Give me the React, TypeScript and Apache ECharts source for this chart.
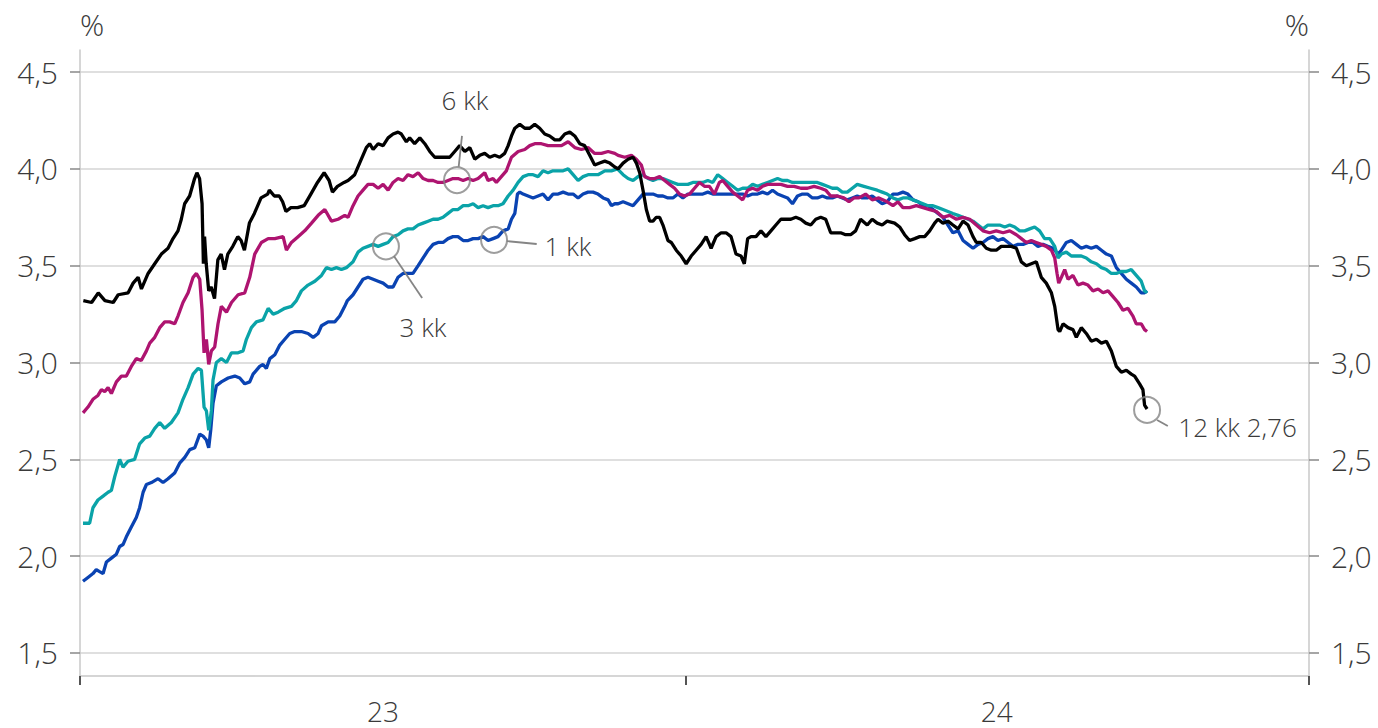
import React, { useEffect, useRef } from "react";
import * as echarts from "echarts";

// x = days since 2023-01-01, y = rate (%)
const yTicks = [1.5, 2.0, 2.5, 3.0, 3.5, 4.0, 4.5];
const xTicks = [0, 365, 740];
const xLabelPos = [182.5, 552];
const xLabelText: Record<string, string> = { "182.5": "23", "552": "24" };

const m12: [number, number][] = [
[2,3.32],[7,3.31],[11,3.36],[15,3.32],[20,3.31],[23,3.35],[29,3.36],[32,3.41],[35,3.44],[37,3.38],[41,3.46],[45,3.51],[49,3.56],[53,3.59],[56,3.64],[59,3.68],[61,3.74],[63,3.82],[66,3.86],[69,3.95],[70.4,3.98],[72,3.95],[73.5,3.82],[74.3,3.51],[75,3.65],[76,3.51],[77.5,3.37],[79,3.39],[81,3.33],[83,3.53],[85,3.56],[87,3.48],[89,3.56],[92,3.6],[95,3.65],[97,3.63],[99,3.58],[102,3.72],[105,3.77],[109,3.85],[113,3.87],[114,3.89],[117,3.86],[120,3.86],[122,3.83],[124,3.78],[127,3.8],[131,3.8],[135,3.81],[139,3.87],[143,3.93],[147,3.98],[150,3.94],[152,3.88],[155,3.91],[159,3.93],
[161.4,3.94],[165.4,3.97],[169.4,4.05],[172.4,4.11],[174.4,4.13],[176.5,4.1],[179.5,4.13],[182.5,4.12],[185.5,4.16],[188.5,4.18],[191.5,4.19],[193.5,4.18],[196.5,4.14],[198.5,4.16],[201.5,4.13],[204.6,4.16],[207.6,4.13],[210.6,4.09],[213.6,4.06],[216.6,4.06],[219.6,4.06],[222.6,4.06],[225.6,4.09],[228.6,4.12],[231.7,4.09],[234.7,4.11],[237.7,4.05],[240.7,4.07],[243.7,4.08],[246.7,4.06],[249.7,4.07],[252.7,4.06],[255.7,4.08],[257.8,4.12],[259.8,4.17],[261.8,4.21],[264.8,4.23],[267.8,4.21],[270.8,4.21],[273.8,4.23],[276.8,4.21],[279.8,4.18],[282.8,4.17],[285.9,4.15],[288.9,4.15],[291.9,4.18],[294.9,4.19],[297.9,4.17],[300.9,4.13],[303.9,4.12],[306.9,4.07],[309.9,4.02],[312.9,4.03],[316,4.04],[319,4.03],[322,4.01],
[324,4.0],[327,4.03],[330,4.05],[333,4.06],[335,4.03],[337,3.98],[339,3.89],[341,3.79],[343,3.73],[345,3.73],[347,3.75],[349,3.75],[351,3.71],[354,3.63],[356,3.62],[359,3.58],[362,3.55],[365,3.51],[368,3.55],[371,3.58],[374,3.61],[377,3.65],[380,3.59],[383,3.65],[386,3.67],[389,3.67],[392,3.65],[395,3.56],[398,3.55],[400,3.51],[402,3.64],[404,3.65],[407,3.65],[410,3.68],[413,3.65],[416,3.68],[419,3.71],[422,3.74],[425,3.74],[428,3.74],[431,3.75],[434,3.74],[437,3.72],[440,3.71],[443,3.74],[446,3.75],[449,3.74],[452,3.67],[455,3.67],[458,3.67],[461,3.66],[464,3.66],[467,3.68],[470,3.74],[474,3.71],[477,3.74],[480,3.72],[483,3.71],[486,3.73],
[490.5,3.72],[493.5,3.7],[496.5,3.66],[499.5,3.63],[502.6,3.64],[505.6,3.65],[508.6,3.65],[511.6,3.68],[514.6,3.72],[516.6,3.74],[519.6,3.72],[522.6,3.73],[525.6,3.71],[528.7,3.69],[531.7,3.73],[534.7,3.71],[537.7,3.65],[539.7,3.62],[542.7,3.62],[545.7,3.59],[548.7,3.58],[551.7,3.58],[554.7,3.6],[557.8,3.6],[560.8,3.6],[563.8,3.59],[566.8,3.52],[569.8,3.5],[572.8,3.51],[575.8,3.52],[578.8,3.44],[581.8,3.41],[584.9,3.36],[586.9,3.29],[588.9,3.17],[589.9,3.16],[591.9,3.2],[594.9,3.18],[597.9,3.17],[599.9,3.13],[602.9,3.18],[605.9,3.15],[608.9,3.11],[612,3.12],[615,3.1],[618,3.11],[621,3.06],[624,2.98],[627,2.95],[630,2.96],[633,2.94],[635,2.93],[638,2.89],[640,2.86],[641,2.78],[642.5,2.76]
];

const m6: [number, number][] = [
[1.8,2.74],[4.8,2.77],[7.8,2.81],[10.8,2.83],[12.9,2.86],[14.9,2.85],[16.9,2.87],[18.9,2.84],[21.9,2.9],[24.9,2.93],[27.9,2.93],[30.9,2.98],[33.9,3.02],[36.9,3.01],[40,3.06],[42,3.1],[45,3.13],[48,3.18],[51,3.21],[54,3.21],[57,3.2],[59,3.24],[62,3.31],[65.1,3.36],[68.1,3.44],[70.1,3.46],[72.1,3.43],[73.5,3.27],[74.7,3.05],[76.1,3.12],[77.5,2.99],[79.1,3.06],[81.1,3.08],[83.1,3.2],[85.1,3.29],[88.2,3.26],[91.2,3.31],[95.2,3.35],[99.2,3.36],[102.2,3.44],[105.2,3.56],[109.2,3.62],[113.3,3.64],[117.3,3.64],[122.3,3.65],[124.3,3.58],[127.3,3.62],[131.3,3.65],[135.3,3.68],[139.4,3.72],[143.4,3.76],[147.4,3.79],[151.4,3.73],[155.4,3.74],[159.4,3.76],
[161.4,3.75],[164.4,3.81],[167.4,3.86],[170.4,3.89],[173.4,3.92],[176.5,3.92],[179.5,3.9],[182.5,3.92],[185.5,3.89],[188.5,3.93],[191.5,3.95],[194.5,3.94],[197.5,3.97],[200.5,3.96],[203.6,3.98],[206.6,3.95],[209.6,3.94],[212.6,3.94],[215.6,3.93],[218.6,3.93],[221.6,3.94],[224.6,3.95],[227.6,3.95],[230.7,3.94],[233.7,3.95],[236.7,3.94],[239.7,3.95],[243.7,3.98],[245.7,3.94],[248.7,3.95],[250.7,3.93],[253.7,3.96],[256.7,3.99],[259.8,4.06],[263.8,4.09],[267.8,4.1],[270.8,4.12],[273.8,4.13],[277.8,4.13],[281.8,4.12],[285.9,4.12],[289.9,4.12],[293.9,4.14],[297.9,4.11],[301.9,4.1],[305.9,4.11],[309.9,4.08],[314,4.08],[318,4.09],[322,4.08],
[324,4.07],[328,4.06],[332,4.07],[335,4.05],[338,4.02],[340,3.96],[343,3.95],[346,3.95],[349,3.96],[352,3.94],[355,3.92],[358,3.9],[361,3.87],[364,3.86],[367,3.87],[370,3.9],[373,3.93],[376,3.91],[379,3.91],[382,3.87],[385,3.93],[387,3.94],[390,3.91],[393,3.88],[396,3.86],[399,3.84],[402,3.89],[405,3.9],[408,3.89],[411,3.91],[414,3.92],[418,3.92],[422,3.92],[426,3.91],[430,3.91],[434,3.9],[438,3.9],[442,3.91],[446,3.9],[449,3.89],[452,3.86],[456,3.86],[460,3.85],[463,3.83],[466,3.85],[469,3.85],[473,3.87],[477,3.84],[481,3.85],[486,3.83],
[489.5,3.81],[492.5,3.83],[495.5,3.8],[499.5,3.8],[503.6,3.81],[507.6,3.8],[511.6,3.79],[515.6,3.78],[519.6,3.75],[523.6,3.76],[527.7,3.74],[531.7,3.75],[535.7,3.74],[539.7,3.71],[543.7,3.68],[547.7,3.67],[551.7,3.68],[555.8,3.67],[559.8,3.68],[563.8,3.66],[566.8,3.64],[569.8,3.62],[572.8,3.63],[575.8,3.62],[578.8,3.61],[581.8,3.6],[584.9,3.58],[586.9,3.54],[588.3,3.46],[589.3,3.41],[590.9,3.44],[592.9,3.48],[594.9,3.43],[597.9,3.45],[600.9,3.4],[603.9,3.41],[606.9,3.4],[609.9,3.37],[613,3.38],[616,3.36],[619,3.37],[622,3.34],[625,3.31],[628,3.27],[631,3.28],[634,3.24],[636,3.2],[639,3.2],[641,3.17],[642.5,3.16]
];

const m3: [number, number][] = [
[1.8,2.17],[5.8,2.17],[7.8,2.25],[10.8,2.29],[13.9,2.31],[16.9,2.33],[18.9,2.34],[20.9,2.41],[23.9,2.5],[25.9,2.46],[28.9,2.49],[32.9,2.5],[35.9,2.58],[39,2.61],[42,2.62],[45,2.66],[48,2.69],[51,2.66],[55,2.69],[59,2.74],[62,2.81],[65.1,2.87],[68.1,2.94],[71.1,2.97],[73.1,2.96],[74.7,2.77],[76.1,2.75],[77.5,2.65],[79.1,2.75],[80.1,2.91],[82.1,3.0],[85.1,3.02],[88.2,3.0],[91.2,3.05],[95.2,3.05],[98.2,3.06],[100.2,3.12],[103.2,3.18],[106.2,3.21],[110.2,3.22],[113.3,3.28],[116.3,3.25],[119.3,3.26],[123.3,3.28],[127.3,3.29],[130.3,3.32],[133.3,3.37],[137.3,3.4],[141.4,3.42],[145.4,3.45],[148.4,3.49],[151.4,3.48],[154.4,3.49],[157.4,3.48],[160.4,3.49],
[164.4,3.52],[167.4,3.57],[170.4,3.59],[173.4,3.6],[176.5,3.61],[179.5,3.6],[182.5,3.61],[185.5,3.62],[188.5,3.65],[191.5,3.66],[194.5,3.68],[197.5,3.69],[200.5,3.69],[203.6,3.71],[206.6,3.72],[209.6,3.73],[212.6,3.74],[215.6,3.74],[218.6,3.75],[221.6,3.77],[224.6,3.79],[227.6,3.79],[230.7,3.81],[233.7,3.81],[236.7,3.82],[239.7,3.8],[242.7,3.81],[245.7,3.8],[248.7,3.81],[251.7,3.81],[254.7,3.82],[257.8,3.86],[260.8,3.89],[263.8,3.93],[266.8,3.96],[269.8,3.97],[272.8,3.97],[275.8,3.96],[278.8,3.99],[281.8,3.98],[284.8,3.99],[287.9,3.99],[290.9,3.99],[293.9,4.0],[296.9,3.97],[299.9,3.94],[302.9,3.96],[305.9,3.97],[308.9,3.97],[311.9,3.97],[316,3.99],[320,3.99],[323.6,4.0],
[327,3.97],[330,3.95],[333,3.94],[336,3.96],[339,3.97],[342,3.95],[345,3.94],[348,3.95],[351,3.95],[354,3.94],[357,3.93],[360,3.92],[363,3.92],[366,3.92],[369,3.93],[372,3.93],[375,3.93],[378,3.94],[381,3.93],[384,3.97],[387,3.95],[390,3.93],[393,3.91],[396,3.89],[399,3.9],[402,3.9],[405,3.92],[408,3.91],[411,3.92],[414,3.93],[417,3.94],[420,3.95],[423,3.94],[426,3.94],[429,3.93],[432,3.93],[435,3.93],[438,3.93],[441,3.93],[444,3.93],[447,3.92],[450,3.91],[453,3.9],[456,3.9],[459,3.88],[462,3.88],[465,3.9],[468,3.92],[472,3.91],[476,3.9],[480,3.89],[483,3.88],[486,3.87],
[489.5,3.85],[492.5,3.84],[495.5,3.85],[498.5,3.85],[501.6,3.84],[504.6,3.83],[507.6,3.82],[510.6,3.81],[513.6,3.81],[516.6,3.8],[519.6,3.79],[522.6,3.78],[525.6,3.77],[528.7,3.76],[531.7,3.75],[534.7,3.74],[537.7,3.73],[540.7,3.71],[543.7,3.69],[546.7,3.71],[550.7,3.71],[553.7,3.71],[556.8,3.7],[559.8,3.71],[562.8,3.7],[565.8,3.68],[568.8,3.68],[571.8,3.69],[574.8,3.7],[577.8,3.68],[580.8,3.64],[583.9,3.64],[586.9,3.6],[588.9,3.54],[590.9,3.56],[593.9,3.57],[596.9,3.55],[599.9,3.55],[602.9,3.55],[605.9,3.54],[608.9,3.52],[612,3.51],[615,3.49],[618,3.48],[621,3.46],[624,3.46],[627,3.47],[630,3.47],[633,3.48],[636,3.45],[639,3.42],[641,3.37],[642.5,3.36]
];

const m1: [number, number][] = [
[1.8,1.87],[4.8,1.89],[7.8,1.91],[9.8,1.93],[11.8,1.92],[13.9,1.91],[15.9,1.97],[18.9,1.99],[21.9,2.01],[23.9,2.05],[25.9,2.06],[27.9,2.1],[30.9,2.15],[33.9,2.2],[35.9,2.25],[38,2.33],[40,2.37],[43,2.38],[45,2.39],[47,2.4],[50,2.38],[53,2.4],[57,2.43],[60,2.48],[63.1,2.51],[66.1,2.55],[69.1,2.56],[72.1,2.63],[74.1,2.62],[76.1,2.6],[77.5,2.56],[78.7,2.65],[80.1,2.79],[82.1,2.88],[85.1,2.9],[89.2,2.92],[93.2,2.93],[96.2,2.92],[99.2,2.89],[102.2,2.9],[104.2,2.94],[108.2,2.98],[110.2,2.99],[112.2,2.97],[114.3,3.02],[117.3,3.04],[120.3,3.09],[123.3,3.12],[126.3,3.15],[129.3,3.16],[133.3,3.16],[137.3,3.15],[140.4,3.13],[143.4,3.15],[145.4,3.19],[149.4,3.21],[153.4,3.21],[156.4,3.24],[159.4,3.29],[161,3.32],
[164.4,3.35],[167.4,3.39],[170.4,3.43],[173.4,3.44],[176.5,3.43],[179.5,3.42],[182.5,3.41],[185.5,3.39],[188.5,3.39],[191.5,3.44],[194.5,3.46],[197.5,3.46],[200.5,3.46],[203.6,3.5],[206.6,3.54],[209.6,3.58],[212.6,3.61],[215.6,3.62],[218.6,3.62],[221.6,3.64],[224.6,3.65],[227.6,3.65],[230.7,3.63],[233.7,3.63],[236.7,3.64],[239.7,3.64],[242.7,3.65],[245.7,3.63],[248.7,3.64],[251.7,3.65],[254.7,3.68],[257.8,3.69],[259.8,3.74],[261.8,3.77],[263.4,3.87],[264.8,3.88],[266.8,3.87],[269.8,3.86],[272.8,3.85],[275.8,3.86],[278.8,3.87],[281.8,3.84],[284.8,3.87],[287.9,3.87],[290.9,3.88],[293.9,3.87],[296.9,3.87],[299.9,3.85],[302.9,3.87],[305.9,3.88],[308.9,3.88],[311.9,3.87],[315,3.85],[318,3.84],[320,3.81],[322,3.82],
[324,3.82],[327,3.83],[330,3.82],[333,3.81],[336,3.84],[339,3.87],[342,3.87],[345,3.87],[348,3.86],[351,3.86],[354,3.85],[357,3.85],[360,3.87],[363,3.85],[366,3.87],[369,3.87],[372,3.87],[375,3.87],[378,3.88],[381,3.87],[384,3.87],[387,3.87],[390,3.87],[393,3.87],[396,3.87],[399,3.87],[402,3.86],[405,3.87],[408,3.87],[411,3.88],[414,3.87],[417,3.89],[420,3.87],[423,3.86],[426,3.85],[429,3.82],[432,3.86],[435,3.87],[438,3.87],[441,3.85],[444,3.85],[447,3.86],[450,3.85],[453,3.85],[456,3.86],[459,3.85],[462,3.84],[465,3.85],[468,3.86],[471,3.85],[474,3.85],[477,3.86],[480,3.84],[483,3.82],[486,3.83],
[489.5,3.87],[492.5,3.87],[495.5,3.88],[498.5,3.87],[501.6,3.84],[504.6,3.83],[507.6,3.81],[510.6,3.81],[513.6,3.79],[516.6,3.77],[519.6,3.75],[522.6,3.71],[525.6,3.67],[528.7,3.68],[531.7,3.63],[534.7,3.61],[537.7,3.59],[540.7,3.61],[543.7,3.62],[546.7,3.64],[549.7,3.65],[552.7,3.63],[555.8,3.64],[558.8,3.62],[561.8,3.6],[564.8,3.61],[567.8,3.61],[570.8,3.62],[573.8,3.62],[576.8,3.6],[579.8,3.61],[582.8,3.6],[585.9,3.59],[588.9,3.56],[590.9,3.58],[593.9,3.62],[596.9,3.63],[599.9,3.61],[602.9,3.59],[605.9,3.6],[608.9,3.59],[612,3.6],[615,3.58],[618,3.56],[621,3.55],[624,3.49],[627,3.46],[630,3.43],[633,3.41],[636,3.39],[639,3.36],[641,3.36],[642.5,3.37]
];

// annotations: circle centres, leader lines, labels (data coordinates)
const circles: [number, number][] = [[227, 3.942], [184.2, 3.60], [249.3, 3.633], [642.5, 2.755]];
const leaders: [number, number][][] = [
  [[230, 4.17], [228, 4.01]],
  [[189, 3.55], [206, 3.333]],
  [[257, 3.627], [275, 3.612]],
  [[648.5, 2.703], [655, 2.672]],
];
const centreLabels = [
  { name: "6 kk", value: [231.8, 4.355] },
  { name: "3 kk", value: [206.5, 3.183] },
];
const rightLabels = [
  { name: "1 kk", value: [279.4, 3.60] },
  { name: "12 kk 2,76", value: [661, 2.667] },
];

const FONT = "'Open Sans', 'Noto Sans', sans-serif";
const TXT = "#3a3a3a";
const GRID = "#d4d4d4";
const AXIS = "#c8c8c8";
const ANN = "#858585";
const FS = 30;
const AFS = 26;

export default function App() {
  const ref = useRef<HTMLDivElement>(null);
  useEffect(() => {
    if (!ref.current) return;
    const chart = echarts.init(ref.current, undefined, { renderer: "svg" });
    const yAxisBase = {
      type: "value",
      min: 1.381,
      max: 4.614,
      axisLine: { show: true, lineStyle: { color: AXIS, width: 1.5 } },
      axisTick: { show: true, customValues: yTicks, length: 10, lineStyle: { color: "#888", width: 1.5 } },
      axisLabel: {
        customValues: yTicks,
        margin: 22,
        fontSize: FS,
        lineHeight: FS,
        fontWeight: 300,
        fontFamily: FONT,
        color: TXT,
        formatter: (v: number) => v.toFixed(1).replace(".", ","),
      },
    };
    const lineSeries = (name: string, data: [number, number][], color: string) => ({
      name,
      type: "line",
      data,
      showSymbol: false,
      symbol: "none",
      lineStyle: { color, width: 3.3 },
      silent: true,
      z: 3,
    });
    const annLabel = { fontSize: AFS, lineHeight: AFS, fontWeight: 300, fontFamily: FONT, color: TXT, opacity: 1 };
    chart.setOption({
      animation: false,
      backgroundColor: "#fff",
      textStyle: { fontFamily: FONT },
      grid: { left: 80, right: 69, top: 50, bottom: 52, containLabel: false },
      xAxis: {
        type: "value",
        min: 0,
        max: 740,
        axisLine: { show: true, lineStyle: { color: AXIS, width: 1.5 } },
        axisTick: { show: true, customValues: xTicks, length: 9, lineStyle: { color: "#555", width: 2 } },
        axisLabel: {
          customValues: xLabelPos,
          margin: 23,
          fontSize: 28,
          lineHeight: 24,
          fontWeight: 300,
          fontFamily: FONT,
          color: TXT,
          formatter: (v: number) => xLabelText[String(v)] ?? "",
        },
        splitLine: { show: false },
      },
      yAxis: [
        {
          ...yAxisBase,
          position: "left",
          splitLine: { show: true, lineStyle: { color: GRID, width: 1.5 } },
        },
        {
          ...yAxisBase,
          position: "right",
          splitLine: { show: false },
        },
      ],
      graphic: [
        { type: "text", left: 80, top: 9, style: { text: "%", fontSize: FS, fontWeight: 300, fontFamily: FONT, fill: TXT } },
        { type: "text", right: 69, top: 9, style: { text: "%", fontSize: FS, fontWeight: 300, fontFamily: FONT, fill: TXT } },
      ],
      series: [
        lineSeries("1 kk", m1, "#0a43b2"),
        lineSeries("3 kk", m3, "#0aa3a8"),
        lineSeries("6 kk", m6, "#ae1470"),
        lineSeries("12 kk", m12, "#000000"),
        {
          type: "scatter",
          data: circles,
          symbol: "circle",
          symbolSize: 26,
          itemStyle: { color: "rgba(255,255,255,0)", borderColor: ANN, borderWidth: 2 },
          silent: true,
          z: 5,
        },
        {
          type: "lines",
          coordinateSystem: "cartesian2d",
          data: leaders.map((c) => ({ coords: c })),
          lineStyle: { color: ANN, width: 1.8, opacity: 1 },
          silent: true,
          z: 5,
        },
        {
          type: "scatter",
          data: centreLabels,
          symbolSize: 1,
          itemStyle: { color: "rgba(255,255,255,0)" },
          label: { show: true, position: "inside", formatter: "{b}", ...annLabel },
          silent: true,
          z: 6,
        },
        {
          type: "scatter",
          data: rightLabels,
          symbolSize: 1,
          itemStyle: { color: "rgba(255,255,255,0)" },
          label: { show: true, position: "right", distance: 0, formatter: "{b}", ...annLabel },
          silent: true,
          z: 6,
        },
      ],
    });
    return () => chart.dispose();
  }, []);
  return <div ref={ref} style={{ position: "fixed", left: 0, top: 0, width: 1378, height: 728 }} />;
}
